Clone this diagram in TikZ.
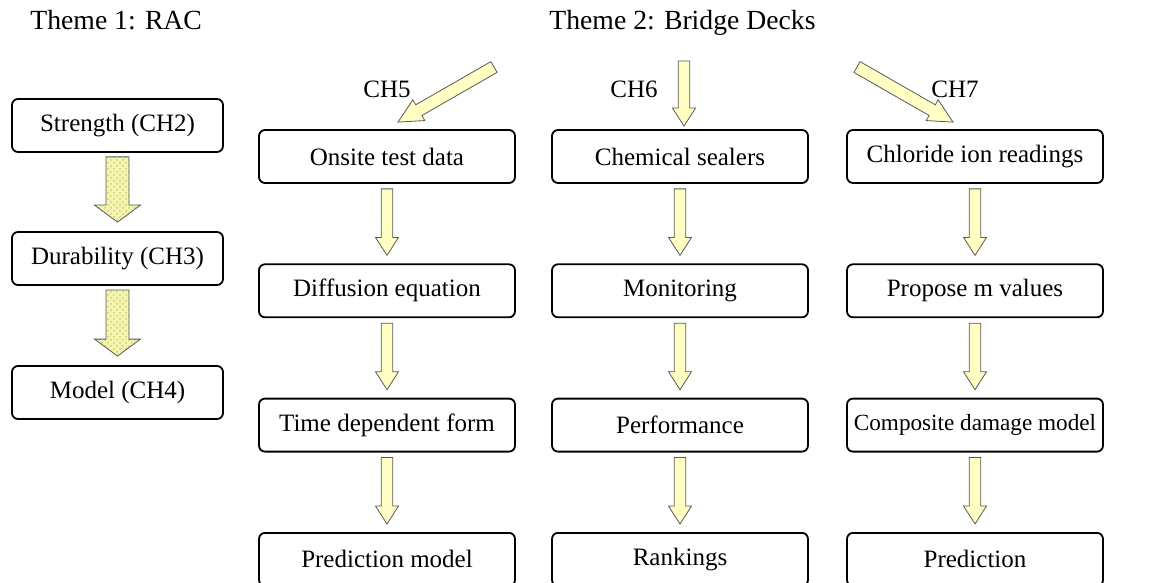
\documentclass[tikz,border=0pt]{standalone}
\usepackage{fontspec}
\setmainfont{Liberation Serif}
\usetikzlibrary{calc,patterns}

\definecolor{arrowyellow}{RGB}{255,255,196}
\definecolor{dotyellow}{RGB}{246,246,170}
\definecolor{dotgrey}{RGB}{200,200,150}

% block arrow: [style]{tail}{tip}{half shaft}{half head}{head length}
\newcommand{\blockarrow}[6][]{%
  \coordinate (hb) at ($(#3)!#6!(#2)$);
  \draw[#1] ($(#2)!#4!90:(#3)$) -- ($(hb)!#4!90:(#3)$) -- ($(hb)!#5!90:(#3)$) -- (#3)
    -- ($(hb)!#5!-90:(#3)$) -- ($(hb)!#4!-90:(#3)$) -- ($(#2)!#4!-90:(#3)$) -- cycle;}

\tikzset{
  stage/.style={draw, rounded corners=3pt, line width=0.9pt, minimum width=128pt,
    minimum height=26.5pt, inner sep=0pt, font=\fontsize{12.5}{15}\selectfont},
  racstage/.style={stage, minimum width=105.5pt},
  theme/.style={anchor=base west, inner sep=0pt, font=\fontsize{13.85}{16}\selectfont},
  chap/.style={anchor=base, inner sep=0pt, font=\fontsize{12.5}{15}\selectfont},
  flow/.style={draw=gray!70!black, line width=0.4pt, fill=arrowyellow},
  dotflow/.style={draw=gray!70!black, line width=0.4pt, preaction={fill=dotyellow},
    pattern=crosshatch dots, pattern color=dotgrey}
}

\begin{document}
\begin{tikzpicture}[x=0.5pt,y=-0.5pt]
  \useasboundingbox (0,0) rectangle (1152,583);

  \node[theme](th1) at (30,30) {Theme 1: RAC};
  \node[theme](th2) at (549,30) {Theme 2: Bridge Decks};

  % theme 1
  \node[racstage](r1) at (117.5,125.5) {Strength (CH2)};
  \node[racstage](r2) at (117.5,258.5) {Durability (CH3)};
  \node[racstage](r3) at (117.5,392.5) {Model (CH4)};

  % theme 2
  \node[stage](o1) at (387,156.5) {Onsite test data};
  \node[stage](o2) at (387,290.8) {Diffusion equation};
  \node[stage](o3) at (387,425.1) {Time dependent form};
  \node[stage](o4) at (387,559.4) {Prediction model};

  \node[stage](m1) at (680,156.5) {Chemical sealers};
  \node[stage](m2) at (680,290.8) {Monitoring};
  \node[stage](m3) at (680,425.1) {Performance};
  \node[stage](m4) at (680,559.4) {Rankings};

  \node[stage](c1) at (975,156.5) {Chloride ion readings};
  \node[stage](c2) at (975,290.8) {Propose m values};
  \node[stage,font=\fontsize{11.6}{14}\selectfont](c3) at (975,425.1) {Composite damage model};
  \node[stage](c4) at (975,559.4) {Prediction};

  \node[chap](ch5) at (387,98) {CH5};
  \node[chap](ch6) at (634,98) {CH6};
  \node[chap](ch7) at (955,98) {CH7};

  \foreach \a/\b in {r1/r2,r2/r3}{
    \coordinate (t) at ($(\a.south)+(0,4)$);
    \coordinate (p) at ($(\b.north)+(0,-9)$);
    \blockarrow[dotflow]{t}{p}{5.75pt}{11.5pt}{8.5pt}
  }
  \foreach \a/\b in {o1/o2,o2/o3,o3/o4,m1/m2,m2/m3,m3/m4,c1/c2,c2/c3,c3/c4}{
    \coordinate (t) at ($(\a.south)+(0,5)$);
    \coordinate (p) at ($(\b.north)+(0,-8)$);
    \blockarrow[flow]{t}{p}{2.9pt}{5.75pt}{9pt}
  }

  % arrows into the three chapters
  \coordinate (ch5tail) at (494,67);
  \coordinate (ch5tip) at ($(o1.north)+(11,-7)$);
  \blockarrow[flow]{ch5tail}{ch5tip}{3.1pt}{6pt}{12pt}
  \coordinate (ch6tail) at (684,61);
  \coordinate (ch6tip) at ($(m1.north)+(4,-3)$);
  \blockarrow[flow]{ch6tail}{ch6tip}{2.9pt}{5.75pt}{9pt}
  \coordinate (ch7tail) at (857,67);
  \coordinate (ch7tip) at ($(c1.north)+(-22,-7)$);
  \blockarrow[flow]{ch7tail}{ch7tip}{3.1pt}{6pt}{12pt}
\end{tikzpicture}
\end{document}
